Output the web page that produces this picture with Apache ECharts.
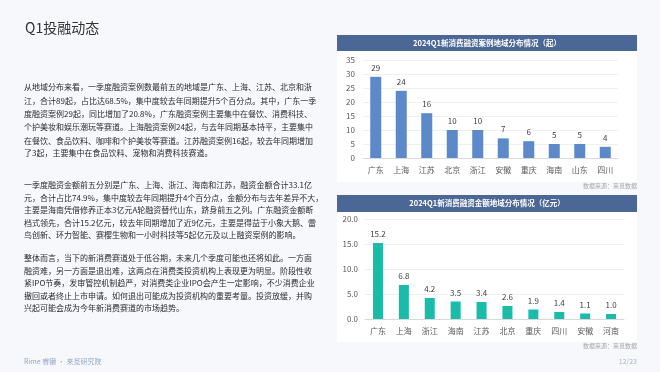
<!DOCTYPE html>
<html>
<head>
<meta charset="utf-8">
<script src="https://cdn.jsdelivr.net/npm/echarts@6/dist/echarts.min.js"></script>
<style>
  html,body{margin:0;padding:0;width:660px;height:372px;overflow:hidden;background:#f6f8fc;}
  #chart{position:absolute;left:0;top:0;width:660px;height:372px;}
  .txt{position:absolute;left:0;top:0;width:660px;height:372px;pointer-events:none;font-family:"Noto Sans CJK SC","Noto Sans",sans-serif;color:#2b2b2b;}
  .ln{position:absolute;left:24px;width:288px;font-size:8px;line-height:12px;height:12px;white-space:nowrap;text-align:justify;text-align-last:justify;}
  .ln.last{text-align:left;text-align-last:left;}
  .title{position:absolute;left:25px;top:18px;font-size:14px;line-height:18px;color:#333;}
  .foot{position:absolute;left:24px;top:355px;font-size:7px;line-height:12px;color:#93a7c6;}
</style>
</head>
<body>
<div id="chart"></div>
<div class="txt" id="txt"></div>
<script>
// ---- data ----
const cat1 = ['广东','上海','江苏','北京','浙江','安徽','重庆','海南','山东','四川'];
const cnt1 = [29,24,16,10,10,7,6,5,5,4];
const cat2 = ['广东','上海','浙江','海南','江苏','北京','重庆','四川','安徽','河南'];
const amt2 = [15.2,6.8,4.2,3.5,3.4,2.6,1.9,1.4,1.1,1.0];
const title1 = '2024Q1新消费融资案例地域分布情况（起）';
const title2 = '2024Q1新消费融资金额地域分布情况（亿元）';
const sourceText = '数据来源：来觅数据';
const pageText = '12/23';
const pageTitle = 'Q1投融动态';
const footText = 'Rime 睿獭 · 来觅研究院';
const para1 = [
  '从地域分布来看，一季度融资案例数最前五的地域是广东、上海、江苏、北京和浙',
  '江，合计89起，占比达68.5%，集中度较去年同期提升5个百分点。其中，广东一季',
  '度融资案例29起，同比增加了20.8%，广东融资案例主要集中在餐饮、消费科技、',
  '个护美妆和娱乐潮玩等赛道。上海融资案例24起，与去年同期基本持平，主要集中',
  '在餐饮、食品饮料、咖啡和个护美妆等赛道。江苏融资案例16起，较去年同期增加',
  '了3起，主要集中在食品饮料、宠物和消费科技赛道。'
];
const para2 = [
  '一季度融资金额前五分别是广东、上海、浙江、海南和江苏，融资金额合计33.1亿',
  '元，合计占比74.9%，集中度较去年同期提升4个百分点，金额分布与去年差异不大，',
  '主要是海南凭借修养正本3亿元A轮融资替代山东，跻身前五之列。广东融资金额断',
  '档式领先，合计15.2亿元，较去年同期增加了近9亿元，主要是得益于小象大鹅、雷',
  '鸟创新、环力智能、赛樱生物和一小时科技等5起亿元及以上融资案例的影响。'
];
const para3 = [
  '整体而言，当下的新消费赛道处于低谷期，未来几个季度可能也还将如此。一方面',
  '融资难，另一方面是退出难，这两点在消费类投资机构上表现更为明显。阶段性收',
  '紧IPO节奏，发审管控机制趋严，对消费类企业IPO会产生一定影响，不少消费企业',
  '撤回或者终止上市申请。如何退出可能成为投资机构的重要考量。投资放缓，并购',
  '兴起可能会成为今年新消费赛道的市场趋势。'
];

// ---- left text (HTML) ----
const txt = document.getElementById('txt');
function addDiv(cls, text, top){
  const d = document.createElement('div');
  d.className = cls; d.textContent = text;
  if (top !== undefined) d.style.top = top + 'px';
  txt.appendChild(d);
}
addDiv('title', pageTitle);
addDiv('foot', footText);
function addPara(lines, centers){
  lines.forEach((l,i)=>{
    addDiv('ln' + (i===lines.length-1 ? ' last' : ''), l, centers[i]-6);
  });
}
addPara(para1, [87,100.5,114,127,140.5,153]);
addPara(para2, [185,197.5,210,222.5,235]);
addPara(para3, [258,270.5,283,295.5,308]);

// ---- charts ----
const chart = echarts.init(document.getElementById('chart'), null, {renderer:'canvas'});
const FONT = '"Noto Sans CJK SC","Noto Sans",sans-serif';
const headerColor = '#4a6795';
const axisLabel = {fontSize:8, color:'#595959', fontFamily:FONT};
chart.setOption({
  animation:false,
  backgroundColor:'transparent',
  grid:[
    {left:363, right:42, top:60, bottom:214},
    {left:365, right:36, top:219, bottom:53}
  ],
  xAxis:[
    {type:'category', gridIndex:0, data:cat1, axisTick:{show:false},
     axisLine:{lineStyle:{color:'#d9d9d9'}}, axisLabel:Object.assign({margin:8},axisLabel)},
    {type:'category', gridIndex:1, data:cat2, axisTick:{show:false},
     axisLine:{lineStyle:{color:'#d9d9d9'}}, axisLabel:Object.assign({margin:8},axisLabel)}
  ],
  yAxis:[
    {type:'value', gridIndex:0, min:0, max:35, interval:5,
     axisLine:{show:false}, axisTick:{show:false},
     splitLine:{lineStyle:{color:'#f0f0f0'}}, axisLabel:Object.assign({margin:8},axisLabel)},
    {type:'value', gridIndex:1, min:0, max:20, interval:5,
     axisLine:{show:false}, axisTick:{show:false},
     splitLine:{lineStyle:{color:'#f0f0f0'}},
     axisLabel:Object.assign({margin:7, formatter:v=>v.toFixed(1)},axisLabel)}
  ],
  series:[
    {type:'bar', xAxisIndex:0, yAxisIndex:0, data:cnt1, barWidth:11,
     itemStyle:{color:'#5b89ca'},
     label:{show:true, position:'top', distance:5, fontSize:8, color:'#404040', fontFamily:FONT}},
    {type:'bar', xAxisIndex:1, yAxisIndex:1, data:amt2, barWidth:10,
     itemStyle:{color:'#19bba9'},
     label:{show:true, position:'top', distance:5, fontSize:8, color:'#404040', fontFamily:FONT,
            formatter:p=>p.value.toFixed(1)}}
  ],
  graphic:[
    {type:'rect', z:-10, shape:{x:337,y:51,width:300,height:131}, style:{fill:'#ffffff'}},
    {type:'rect', z:-10, shape:{x:337,y:212,width:300,height:130}, style:{fill:'#ffffff'}},
    {type:'rect', z:-5, shape:{x:337,y:35,width:300,height:16}, style:{fill:headerColor}},
    {type:'rect', z:-5, shape:{x:337,y:195,width:300,height:17}, style:{fill:headerColor}},
    {type:'text', z:10, x:487, y:43, style:{text:title1, fill:'#fff', fontSize:7.5, fontWeight:'bold',
      fontFamily:FONT, align:'center', verticalAlign:'middle'}},
    {type:'text', z:10, x:487, y:203.5, style:{text:title2, fill:'#fff', fontSize:7.5, fontWeight:'bold',
      fontFamily:FONT, align:'center', verticalAlign:'middle'}},
    {type:'text', z:10, x:637, y:186, style:{text:sourceText, fill:'#a6a6a6', fontSize:6,
      fontFamily:FONT, align:'right', verticalAlign:'middle'}},
    {type:'text', z:10, x:637, y:346, style:{text:sourceText, fill:'#a6a6a6', fontSize:6,
      fontFamily:FONT, align:'right', verticalAlign:'middle'}},
    {type:'text', z:10, x:637, y:361, style:{text:pageText, fill:'#a9b3c6', fontSize:7,
      fontFamily:FONT, align:'right', verticalAlign:'middle'}}
  ]
});
</script>
</body>
</html>
